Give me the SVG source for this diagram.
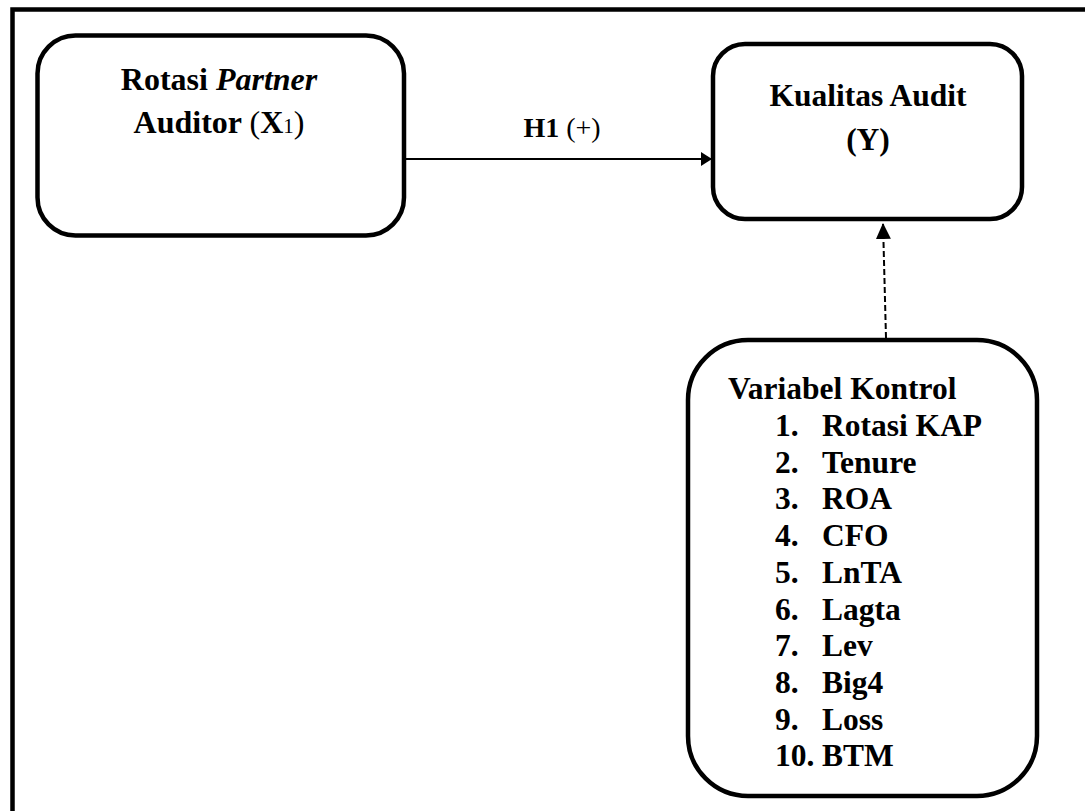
<svg xmlns="http://www.w3.org/2000/svg" width="1085" height="811" viewBox="0 0 1085 811">
<style>
.box{fill:#fff;stroke:#000;stroke-width:4.5}
.t{font-family:"Liberation Serif","Times New Roman",serif;font-weight:bold;fill:#000}
.r{font-weight:normal}
.c{text-anchor:middle}
.conn{stroke:#000;fill:none}
</style>
<defs>
<marker id="ah" markerUnits="userSpaceOnUse" markerWidth="12" markerHeight="16" refX="11" refY="7" orient="auto">
<path d="M0,0 L11,7 L0,14 Z" fill="#000"/>
</marker>
<marker id="ah2" markerUnits="userSpaceOnUse" markerWidth="18" markerHeight="16" refX="16" refY="7.5" orient="auto">
<path d="M0,0 L16,7.5 L0,15 Z" fill="#000"/>
</marker>
</defs>
<rect width="1085" height="811" fill="#fff"/>
<rect id="frame" x="12.5" y="9.5" width="1100" height="840" fill="none" stroke="#000" stroke-width="4.5"/>
<g id="connectors">
<line class="conn" x1="406" y1="159" x2="712" y2="159" stroke-width="2" marker-end="url(#ah)"/>
<line class="conn" x1="886" y1="338" x2="883" y2="223" stroke-width="2" stroke-dasharray="6 3" marker-end="url(#ah2)"/>
</g>
<g id="node-x1">
<rect class="box" x="37.5" y="35.5" width="366.5" height="200" rx="38" ry="38"/>
<text class="t c" x="219" y="90" font-size="32">Rotasi <tspan font-style="italic">Partner</tspan></text>
<text class="t c" x="219" y="133" font-size="32">Auditor <tspan class="r">(</tspan>X<tspan class="r" font-size="21">1</tspan><tspan class="r">)</tspan></text>
</g>
<g id="label-h1">
<text class="t c" x="562" y="137" font-size="28">H1 <tspan class="r">(+)</tspan></text>
</g>
<g id="node-y">
<rect class="box" x="713" y="44" width="309" height="175" rx="32" ry="32"/>
<text class="t c" x="868" y="106" font-size="31.5">Kualitas Audit</text>
<text class="t c" x="868" y="150" font-size="31.5">(Y)</text>
</g>
<g id="node-kontrol">
<rect class="box" x="688" y="340" width="349" height="456" rx="60" ry="60"/>
<text class="t" x="728" y="399" font-size="31.5">Variabel Kontrol</text>
<g class="t" font-size="31.5">
<text x="775" y="436">1.</text><text x="822" y="436">Rotasi KAP</text>
<text x="775" y="472.7">2.</text><text x="822" y="472.7">Tenure</text>
<text x="775" y="509.4">3.</text><text x="822" y="509.4">ROA</text>
<text x="775" y="546.1">4.</text><text x="822" y="546.1">CFO</text>
<text x="775" y="582.8">5.</text><text x="822" y="582.8">LnTA</text>
<text x="775" y="619.5">6.</text><text x="822" y="619.5">Lagta</text>
<text x="775" y="656.2">7.</text><text x="822" y="656.2">Lev</text>
<text x="775" y="692.9">8.</text><text x="822" y="692.9">Big4</text>
<text x="775" y="729.6">9.</text><text x="822" y="729.6">Loss</text>
<text x="775" y="766.3">10.</text><text x="822" y="766.3">BTM</text>
</g>
</g>
</svg>
